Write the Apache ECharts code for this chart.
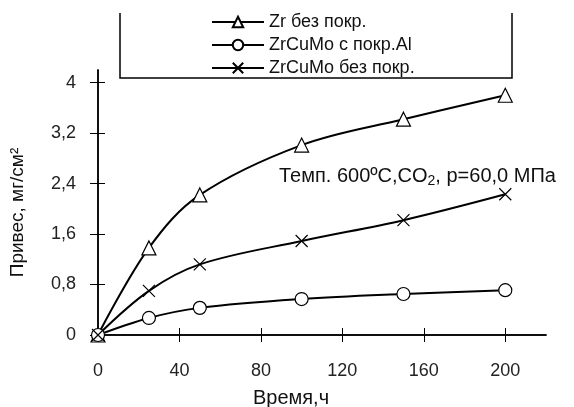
<!DOCTYPE html>
<html>
<head>
<meta charset="utf-8">
<script src="https://cdn.jsdelivr.net/npm/echarts@6/dist/echarts.min.js"></script>
<style>
html,body{margin:0;padding:0;background:#fff;}
#main{width:574px;height:407px;}
</style>
</head>
<body>
<div id="main"></div>
<script>
// данные
var hours = [0, 25, 50, 100, 150, 200];
var zrBare = [0, 1.38, 2.22, 3.01, 3.42, 3.80];
var zrCuMoAl = [0, 0.27, 0.43, 0.57, 0.65, 0.71];
var zrCuMoBare = [0, 0.70, 1.12, 1.49, 1.82, 2.23];
var xTicks = [0, 40, 80, 120, 160, 200];
var yTicks = [0, 0.8, 1.6, 2.4, 3.2, 4];
var seriesNames = ['Zr без покр.', 'ZrCuMo с покр.Al', 'ZrCuMo без покр.'];

var font = 'Liberation Sans, Arial, sans-serif';
var crossPath = 'path://M0,0L10,10M10,0L0,10';

function pairs(ys) {
    return hours.map(function (h, i) { return [h, ys[i]]; });
}

function yFmt(v) {
    return String(Math.round(v * 10) / 10).replace('.', ',');
}

function mkSeries(name, ys, symbol, size) {
    return {
        name: name,
        type: 'line',
        smooth: 0.35,
        data: pairs(ys),
        symbol: symbol,
        symbolSize: size,
        showAllSymbol: true,
        lineStyle: { color: '#000', width: 2 },
        itemStyle: { color: '#fff', borderColor: '#000', borderWidth: 1.2 },
        emphasis: { disabled: true },
        z: 3
    };
}

var axisBase = {
    axisLine: { lineStyle: { color: '#000', width: 1.5 } },
    splitLine: { show: false }
};

var option = {
    animation: false,
    textStyle: { fontFamily: font },
    grid: { left: 98, right: 28, top: 70, bottom: 72, containLabel: false, outerBoundsMode: 'none' },
    legend: {
        orient: 'vertical',
        left: 206,
        top: 8,
        itemWidth: 52,
        itemHeight: 13,
        itemGap: 5,
        textStyle: { fontSize: 18, lineHeight: 16, color: '#111', fontFamily: font },
        data: seriesNames
    },
    xAxis: [
        Object.assign({}, axisBase, {
            type: 'value', min: 0, max: 220,
            name: 'Время,ч', nameLocation: 'middle', nameGap: 53,
            nameTextStyle: { fontSize: 20, color: '#111', padding: [0, 62, 0, 0] },
            axisTick: { show: true, length: 7, customValues: xTicks, lineStyle: { color: '#000' } },
            axisLabel: { customValues: xTicks, margin: 27, fontSize: 18, color: '#222' }
        }),
        Object.assign({}, axisBase, {
            type: 'value', min: 0, max: 220, position: 'bottom',
            axisTick: { show: true, inside: true, length: 7, customValues: xTicks, lineStyle: { color: '#000' } },
            axisLabel: { show: false }
        })
    ],
    yAxis: [
        Object.assign({}, axisBase, {
            type: 'value', min: 0, max: 4.2,
            name: 'Привес, мг/см²', nameLocation: 'middle', nameGap: 71,
            nameTextStyle: { fontSize: 19, color: '#111', padding: [0, 20, 0, 0] },
            axisTick: { show: true, length: 8, customValues: yTicks, lineStyle: { color: '#000' } },
            axisLabel: { customValues: yTicks, margin: 22, fontSize: 18, color: '#222', formatter: yFmt }
        }),
        Object.assign({}, axisBase, {
            type: 'value', min: 0, max: 4.2, position: 'left',
            axisTick: { show: true, inside: true, length: 7, customValues: yTicks, lineStyle: { color: '#000' } },
            axisLabel: { show: false }
        })
    ],
    series: [
        mkSeries(seriesNames[0], zrBare, 'triangle', 14),
        mkSeries(seriesNames[1], zrCuMoAl, 'circle', 13),
        mkSeries(seriesNames[2], zrCuMoBare, crossPath, 12)
    ],
    graphic: [
        {
            // рамка легенды
            type: 'polyline',
            shape: { points: [[120, 13], [120, 78], [512, 78], [512, 13]] },
            style: { stroke: '#000', fill: null, lineWidth: 1.5 },
            z: 1
        },
        {
            type: 'text',
            left: 279, top: 166,
            style: {
                text: 'Темп. 600ºC,CO{s|2}, p=60,0 МПа',
                font: '20px ' + font,
                fill: '#111',
                rich: { s: { fontSize: 14, padding: [10, 0, 0, 0], fill: '#111' } }
            },
            z: 5
        }
    ]
};

var chart = echarts.init(document.getElementById('main'));
chart.setOption(option);
</script>
</body>
</html>
